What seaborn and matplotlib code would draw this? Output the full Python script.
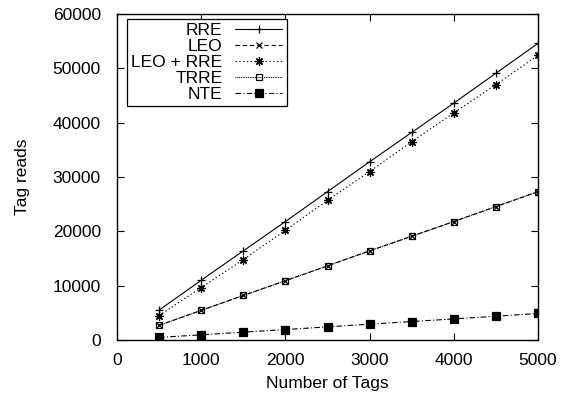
import matplotlib
matplotlib.use("Agg")
import matplotlib.pyplot as plt
import seaborn as sns
import pandas as pd

tags = [500, 1000, 1500, 2000, 2500, 3000, 3500, 4000, 4500, 5000]
rre = [5500, 11000, 16400, 21800, 27300, 32800, 38200, 43600, 49100, 54600]
leo = [2700, 5450, 8200, 10900, 13650, 16400, 19100, 21800, 24550, 27300]
leo_rre = [4500, 9650, 14800, 20200, 25700, 31000, 36500, 41800, 47000, 52400]
trre = [2700, 5450, 8200, 10900, 13650, 16400, 19100, 21800, 24550, 27300]
nte = [480, 950, 1450, 1920, 2420, 2920, 3400, 3880, 4380, 4880]

sns.set_theme(style="ticks")
plt.rcParams["font.family"] = ["Liberation Sans", "DejaVu Sans"]
plt.rcParams["font.size"] = 12.5
plt.rcParams["text.color"] = "black"
plt.rcParams["axes.labelcolor"] = "black"
plt.rcParams["xtick.color"] = "black"
plt.rcParams["ytick.color"] = "black"

FS = 12.5

fig = plt.figure(figsize=(5.68, 3.99), dpi=100)
ax = fig.add_axes([117/568, 1-340/399, (538-117)/568, (340-14)/399])

styles = [
    ("RRE", rre, dict(linestyle="-", marker="+", markersize=6, markeredgewidth=0.9, markerfacecolor="black")),
    ("LEO", leo, dict(linestyle=(0, (4, 2.5)), marker="x", markersize=4.5, markeredgewidth=0.9, markerfacecolor="black")),
    ("LEO + RRE", leo_rre, dict(linestyle=(0, (1.2, 2.2)), marker=(8, 2, 0), markersize=6, markeredgewidth=0.9, markerfacecolor="black")),
    ("TRRE", trre, dict(linestyle=(0, (0.8, 0.8)), marker="s", markersize=5, markeredgewidth=0.9, markerfacecolor="none")),
    ("NTE", nte, dict(linestyle=(0, (5, 2, 1, 2)), marker="s", markersize=5.5, markeredgewidth=0.9, markerfacecolor="black")),
]
zorders = {"RRE": 5, "LEO": 4, "LEO + RRE": 5, "TRRE": 3, "NTE": 5}
for name, vals, kw in styles:
    df = pd.DataFrame({"tags": tags, "reads": vals})
    sns.lineplot(data=df, x="tags", y="reads", ax=ax, color="black", linewidth=0.8,
                 markeredgecolor="black", label=name, zorder=zorders[name], **kw)

ax.set_xlim(0, 5000)
ax.set_ylim(0, 60000)
ax.set_xticks(range(0, 5001, 1000))
ax.set_yticks(range(0, 60001, 10000))
ax.tick_params(direction="in", length=5, width=0.8, top=True, right=True,
               colors="black", labelsize=FS)
ax.tick_params(axis="x", pad=9.2)
ax.tick_params(axis="y", pad=11.6)
for s in ax.spines.values():
    s.set_visible(True)
    s.set_color("black")
    s.set_linewidth(1.0)
ax.set_xlabel("Number of Tags", fontsize=FS, color="black", labelpad=6)
ax.set_ylabel("Tag reads", fontsize=FS, color="black", labelpad=16)

leg = ax.legend(loc="upper left", bbox_to_anchor=(0.024, 0.985), borderaxespad=0,
                markerfirst=False, fancybox=False, framealpha=1, edgecolor="black",
                fontsize=FS, handlelength=2.75, labelspacing=0.04, borderpad=0.25,
                handletextpad=0.7)
leg.get_frame().set_linewidth(0.9)
for t in leg.get_texts():
    t.set_color("black")
for col in leg._legend_handle_box.get_children():
    col.align = "right"

fig.savefig("out.png", dpi=100)
